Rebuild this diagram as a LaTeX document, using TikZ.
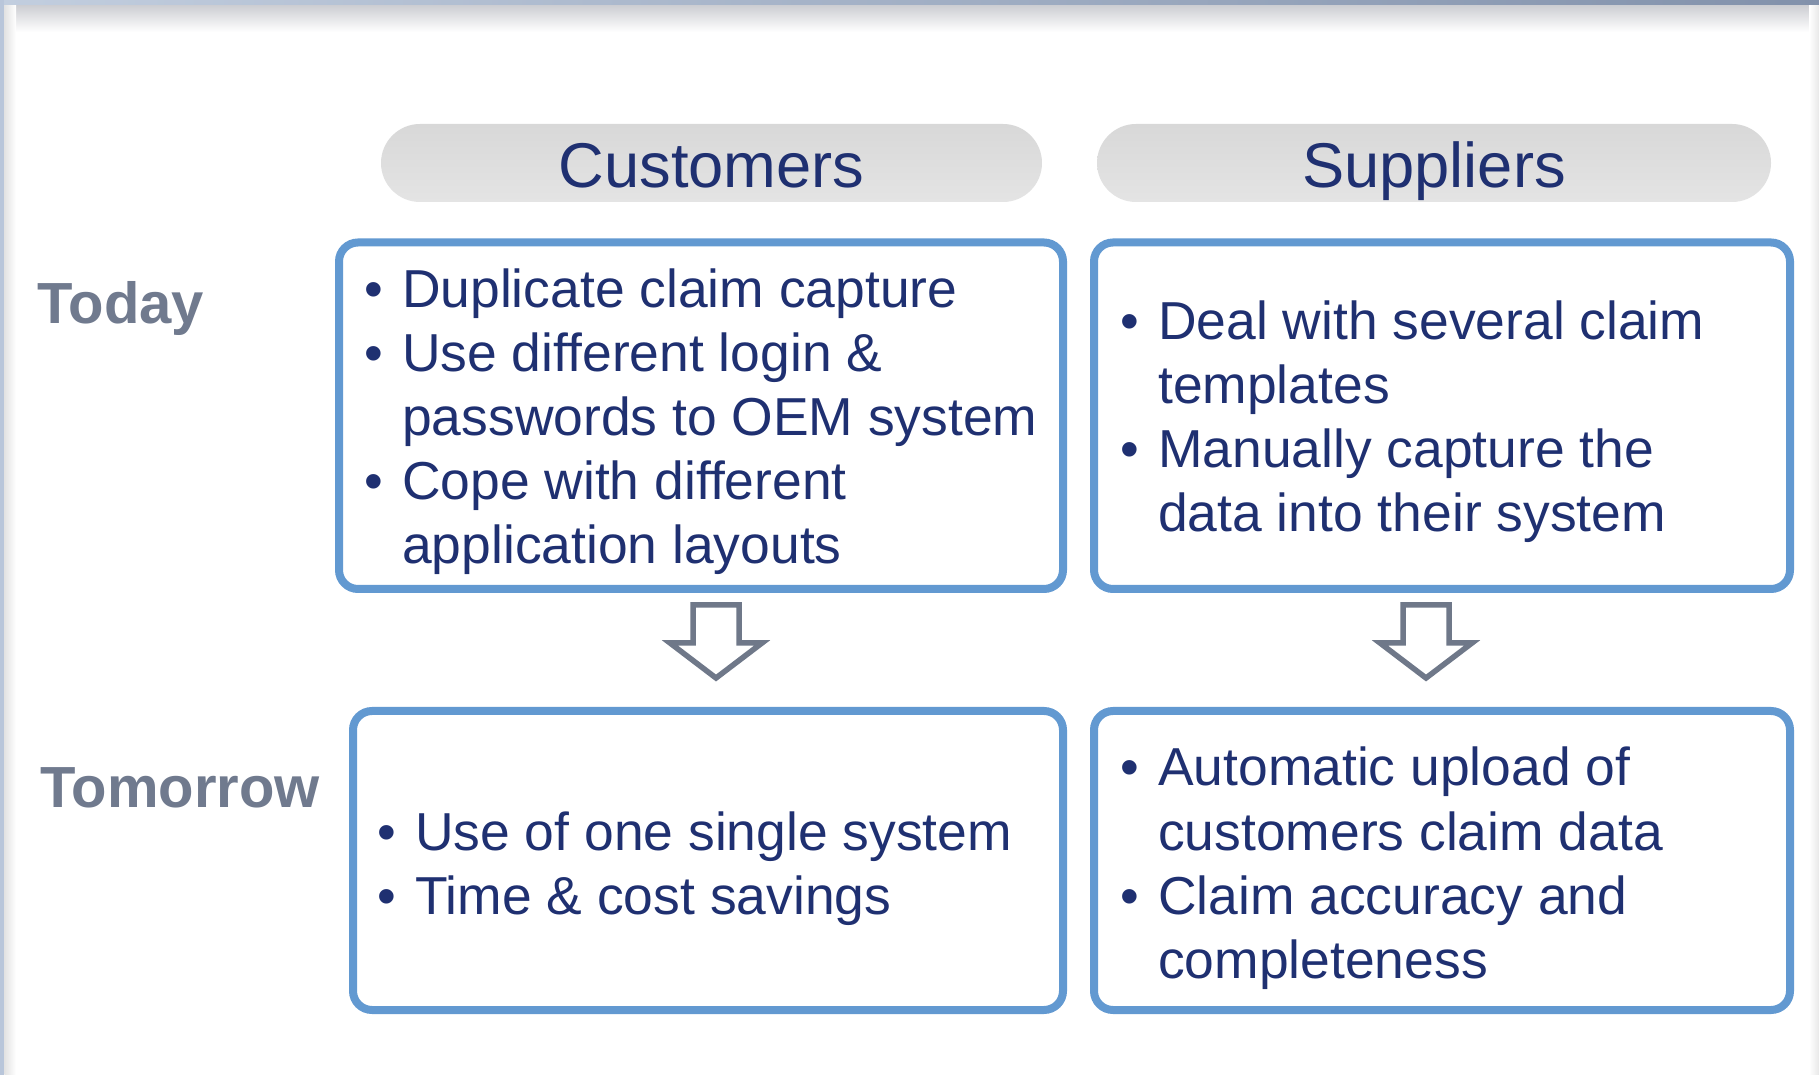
\documentclass[tikz,border=0pt]{standalone}
\usepackage{fontspec}
\setmainfont{Liberation Sans}
\usepackage{tikz}
\definecolor{navy}{RGB}{31,48,113}
\definecolor{boxblue}{RGB}{98,153,209}
\definecolor{labelgray}{RGB}{112,122,142}
\definecolor{arrowgray}{RGB}{111,120,137}
\definecolor{pilltop}{RGB}{216,216,216}
\definecolor{pillbottom}{RGB}{228,228,228}
\definecolor{frameleft}{RGB}{194,206,223}
\definecolor{frameright}{RGB}{130,145,171}
\definecolor{frameside}{RGB}{185,198,218}
\definecolor{shadowgray}{RGB}{204,205,210}
\newcommand{\bul}{\makebox[0.375cm][l]{\textbullet}}
\newcommand{\ind}{\hspace*{0.375cm}}

\begin{document}
\begin{tikzpicture}[
        box/.style={draw=boxblue, line width=0.08cm, rounded corners=0.19cm, fill=white, inner sep=0pt},
        pill/.style={rounded corners=0.39cm, top color=pilltop, bottom color=pillbottom, minimum height=0.78cm,
                     text=navy, font=\fontsize{18}{21.6}\selectfont, text height=0.6cm, text depth=0.11cm, inner sep=0pt},
        itemtext/.style={anchor=base west, inner sep=0pt, text=navy, font=\fontsize{15.2}{18.21}\selectfont},
        rowlabel/.style={anchor=base west, inner sep=0pt, text=labelgray, font=\fontsize{16.5}{19.8}\selectfont\bfseries},
        blockarrow/.style={draw=arrowgray, line width=0.055cm, fill=white, line join=miter}]
        % Frame
        \useasboundingbox (0,0) rectangle (18.19,-10.75);
        \fill[white] (0,0) rectangle (18.19,-10.75);
        \shade[top color=shadowgray, bottom color=white] (0.045,-0.05) rectangle (18.19,-0.32);
        \shade[left color=gray!22, right color=white] (0.045,-0.05) rectangle (0.16,-10.75);
        \shade[left color=white, right color=gray!18] (18.09,-0.05) rectangle (18.19,-10.75);
        \shade[left color=frameleft, right color=frameright] (0,0) rectangle (18.19,-0.05);
        \fill[frameside] (0,0) rectangle (0.045,-10.75);
        % Column Headers
        \node[pill, minimum width=6.61cm] (custhead) at (7.115,-1.63) {Customers};
        \node[pill, minimum width=6.74cm] (supphead) at (14.34,-1.63) {Suppliers};
        % Row Labels
        \node[rowlabel] (today) at (0.37,-3.24) {Today};
        \node[rowlabel] (tomorrow) at (0.40,-8.08) {Tomorrow};
        % Boxes
        \node[box, minimum width=7.24cm, minimum height=3.465cm] (custtoday) at (7.01,-4.1575) {};
        \node[box, minimum width=6.96cm, minimum height=3.465cm] (supptoday) at (14.42,-4.1575) {};
        \node[box, minimum width=7.10cm, minimum height=2.99cm] (custtomorrow) at (7.08,-8.605) {};
        \node[box, minimum width=6.96cm, minimum height=2.99cm] (supptomorrow) at (14.42,-8.605) {};
        % Box Texts
        \node[itemtext] (custtodaytext) at (3.64,-3.08) {\begin{tabular}[t]{@{}l@{}}
            \bul Duplicate claim capture\\
            \bul Use different login \&\\
            \ind passwords to OEM system\\
            \bul Cope with different\\
            \ind application layouts
            \end{tabular}};
        \node[itemtext] (supptodaytext) at (11.20,-3.40) {\begin{tabular}[t]{@{}l@{}}
            \bul Deal with several claim\\
            \ind templates\\
            \bul Manually capture the\\
            \ind data into their system
            \end{tabular}};
        \node[itemtext] (custtomorrowtext) at (3.77,-8.51) {\begin{tabular}[t]{@{}l@{}}
            \bul Use of one single system\\
            \bul Time \& cost savings
            \end{tabular}};
        \node[itemtext] (supptomorrowtext) at (11.20,-7.86) {\begin{tabular}[t]{@{}l@{}}
            \bul Automatic upload of\\
            \ind customers claim data\\
            \bul Claim accuracy and\\
            \ind completeness
            \end{tabular}};
        % Block Arrows Today -> Tomorrow
        \coordinate (custarrow) at (7.16,-6.05);
        \coordinate (supparrow) at (14.26,-6.05);
        \draw[blockarrow] (custarrow) ++(-0.23,0) -- ++(0.46,0) -- ++(0,-0.38) -- ++(0.23,0)
            -- ++(-0.46,-0.35) -- ++(-0.46,0.35) -- ++(0.23,0) -- cycle;
        \draw[blockarrow] (supparrow) ++(-0.23,0) -- ++(0.46,0) -- ++(0,-0.38) -- ++(0.23,0)
            -- ++(-0.46,-0.35) -- ++(-0.46,0.35) -- ++(0.23,0) -- cycle;
\end{tikzpicture}
\end{document}
